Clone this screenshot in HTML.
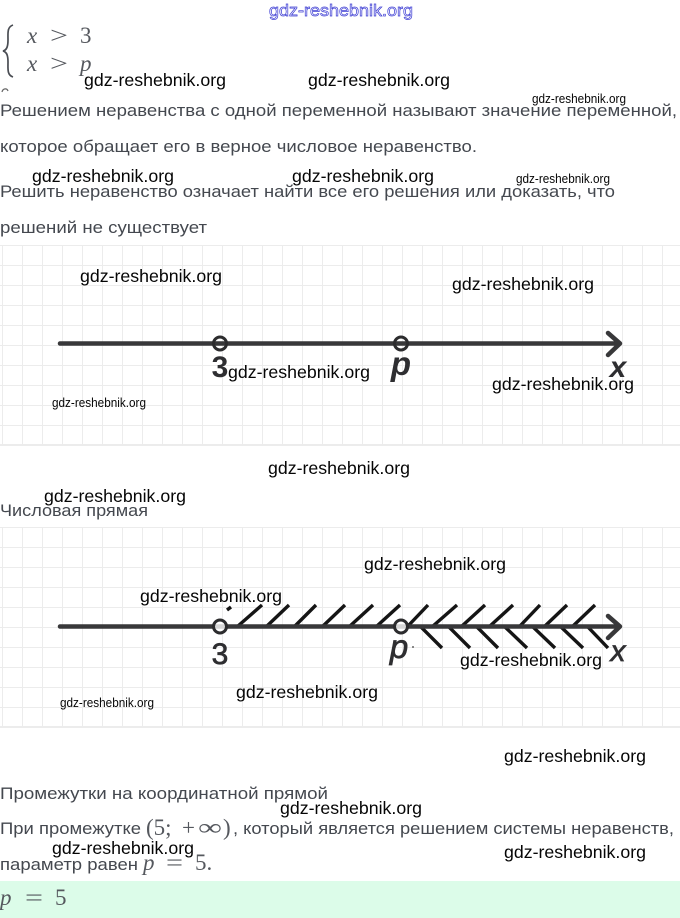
<!DOCTYPE html>
<html lang="ru"><head><meta charset="utf-8"><title>Числовая прямая</title>
<style>
html,body{margin:0;padding:0;background:#fff}
svg{display:block}
.t{font-family:"Liberation Sans",sans-serif;font-size:17px;fill:#44484f}
.m{font-family:"Liberation Serif",serif;font-size:23px;fill:#55585e}
.i{font-style:italic}
.w{font-family:"Liberation Sans",sans-serif;font-size:17.500px;fill:#050505}
.s{font-family:"Liberation Sans",sans-serif;font-size:12.500px;fill:#050505}
.g{stroke:#ececec;stroke-width:2;fill:none}
.a{stroke:#38383a;stroke-width:4.500;fill:none;stroke-linecap:round;stroke-linejoin:round}
.h{stroke:#151515;stroke-width:3.400;fill:none}
.l{font-family:"Liberation Sans",sans-serif;fill:#2e2e31}
</style></head><body>
<svg xmlns="http://www.w3.org/2000/svg" width="680" height="918" viewBox="0 0 680 918">
<defs>
<pattern id="gp" x="2" y="5" width="20" height="20" patternUnits="userSpaceOnUse"><path class="g" d="M0 0V20M0 0H20"/></pattern>
<pattern id="gq" x="2" y="7" width="20" height="20" patternUnits="userSpaceOnUse"><path class="g" d="M0 0V20M0 0H20"/></pattern>
</defs>
<rect width="680" height="918" fill="#fff"/>

<text x="269" y="16" font-family="Liberation Sans, sans-serif" font-size="17" fill="#fff" stroke="#3f3fd4" stroke-width=".7" textLength="144" lengthAdjust="spacingAndGlyphs">gdz-reshebnik.org</text>

<path d="M13 25C7 27 8 33 8 40C8 46 7 50 3 51C7 52 8 56 8 62C8 69 7 75 13 77" fill="none" stroke="#4a4d53" stroke-width="1.700"/>
<text class="m i" x="27" y="43">x</text><text class="m" x="50" y="43" textLength="18" lengthAdjust="spacingAndGlyphs">&gt;</text><text class="m" x="80" y="43">3</text>
<text class="m i" x="27" y="71">x</text><text class="m" x="50" y="71" textLength="18" lengthAdjust="spacingAndGlyphs">&gt;</text><text class="m i" x="80" y="71">p</text>
<path d="M2 92C3 88 7 88 8 91" fill="none" stroke="#666" stroke-width="1.200"/>

<text class="t" x="0" y="116" textLength="677" lengthAdjust="spacingAndGlyphs">Решением неравенства с одной переменной называют значение переменной,</text>
<text class="t" x="0" y="152" textLength="477" lengthAdjust="spacingAndGlyphs">которое обращает его в верное числовое неравенство.</text>
<text class="t" x="0" y="197" textLength="615" lengthAdjust="spacingAndGlyphs">Решить неравенство означает найти все его решения или доказать, что</text>
<text class="t" x="0" y="233" textLength="207" lengthAdjust="spacingAndGlyphs">решений не существует</text>

<rect x="0" y="245" width="680" height="200" fill="url(#gp)"/>
<path class="g" d="M0 445H680"/>
<path class="a" d="M60 343.500H620M608 333L620 343.500L608 355"/>
<circle cx="220" cy="343.500" r="6.500" fill="none" stroke="#2c2c2e" stroke-width="3"/>
<circle cx="401" cy="343.500" r="6.500" fill="none" stroke="#2c2c2e" stroke-width="3"/>
<text class="l" x="220" y="377" font-size="30" font-weight="bold" text-anchor="middle">3</text>
<text class="l" x="401" y="375" font-size="33" font-weight="bold" font-style="italic" text-anchor="middle">p</text>
<text class="l" x="618" y="377" font-size="30" font-weight="bold" font-style="italic" text-anchor="middle">x</text>

<text class="t" x="0" y="516" textLength="148" lengthAdjust="spacingAndGlyphs">Числовая прямая</text>

<rect x="0" y="527" width="680" height="200" fill="url(#gq)"/>
<path class="g" d="M0 727H680"/>
<path class="h" d="M238 626L262 605M267 626L289 605M295 626L316 605M323 626L345 605M350 626L373 605M377 626L400 605M408 626L428 605M433 626L457 605M462 626L485 605M490 626L513 605M520 626L540 605M545 626L567 605M573 626L595 605M227 610L231 607"/>
<path class="h" d="M420 626L442 648M448 626L470 648M476 626L498 648M504 626L527 648M532 626L555 648M560 626L583 648M587 626L608 648"/>
<path class="a" d="M60 626.500H620M608 616L620 626.500L608 638"/>
<circle cx="220" cy="626.500" r="6.500" fill="#fff" fill-opacity=".8" stroke="#2c2c2e" stroke-width="3"/>
<circle cx="401" cy="626.500" r="6.500" fill="#fff" fill-opacity=".8" stroke="#2c2c2e" stroke-width="3"/>
<text class="l" x="220" y="664" font-size="30" text-anchor="middle" stroke="#2e2e31" stroke-width=".7">3</text>
<text class="l" x="399" y="658" font-size="33" font-style="italic" text-anchor="middle" stroke="#2e2e31" stroke-width=".7">p</text>
<text class="l" x="618" y="661" font-size="30" font-style="italic" text-anchor="middle" stroke="#2e2e31" stroke-width=".7">x</text>
<circle cx="413" cy="647" r="1" fill="#666"/>

<text class="t" x="0" y="799" textLength="328" lengthAdjust="spacingAndGlyphs">Промежутки на координатной прямой</text>
<text class="t" x="0" y="834" textLength="141" lengthAdjust="spacingAndGlyphs">При промежутке</text>
<text class="m" x="146" y="835">(5;</text><text class="m" x="182" y="835">+</text><text class="m" x="198" y="835" textLength="24" lengthAdjust="spacingAndGlyphs">∞</text><text class="m" x="223" y="835">)</text>
<text class="t" x="233" y="834" textLength="441" lengthAdjust="spacingAndGlyphs">, который является решением системы неравенств,</text>
<text class="t" x="0" y="870" textLength="138" lengthAdjust="spacingAndGlyphs">параметр равен</text>
<text class="m i" x="143" y="870">p</text><text class="m" x="166" y="870" textLength="17" lengthAdjust="spacingAndGlyphs">=</text><text class="m" x="195" y="870">5.</text>

<rect x="0" y="881" width="680" height="37" fill="#dcfce9"/>
<text class="m i" x="0" y="905">p</text><text class="m" x="25" y="905" textLength="18" lengthAdjust="spacingAndGlyphs">=</text><text class="m" x="55" y="905">5</text>

<g>
<text class="w" x="84" y="86" textLength="142" lengthAdjust="spacingAndGlyphs">gdz-reshebnik.org</text>
<text class="w" x="308" y="86" textLength="142" lengthAdjust="spacingAndGlyphs">gdz-reshebnik.org</text>
<text class="s" x="532" y="103" textLength="94" lengthAdjust="spacingAndGlyphs">gdz-reshebnik.org</text>
<text class="w" x="32" y="182" textLength="142" lengthAdjust="spacingAndGlyphs">gdz-reshebnik.org</text>
<text class="w" x="292" y="182" textLength="142" lengthAdjust="spacingAndGlyphs">gdz-reshebnik.org</text>
<text class="s" x="516" y="183" textLength="94" lengthAdjust="spacingAndGlyphs">gdz-reshebnik.org</text>
<text class="w" x="80" y="282" textLength="142" lengthAdjust="spacingAndGlyphs">gdz-reshebnik.org</text>
<text class="w" x="452" y="290" textLength="142" lengthAdjust="spacingAndGlyphs">gdz-reshebnik.org</text>
<text class="w" x="228" y="378" textLength="142" lengthAdjust="spacingAndGlyphs">gdz-reshebnik.org</text>
<text class="w" x="492" y="390" textLength="142" lengthAdjust="spacingAndGlyphs">gdz-reshebnik.org</text>
<text class="s" x="52" y="407" textLength="94" lengthAdjust="spacingAndGlyphs">gdz-reshebnik.org</text>
<text class="w" x="268" y="474" textLength="142" lengthAdjust="spacingAndGlyphs">gdz-reshebnik.org</text>
<text class="w" x="44" y="502" textLength="142" lengthAdjust="spacingAndGlyphs">gdz-reshebnik.org</text>
<text class="w" x="364" y="570" textLength="142" lengthAdjust="spacingAndGlyphs">gdz-reshebnik.org</text>
<text class="w" x="140" y="602" textLength="142" lengthAdjust="spacingAndGlyphs">gdz-reshebnik.org</text>
<text class="w" x="460" y="666" textLength="142" lengthAdjust="spacingAndGlyphs">gdz-reshebnik.org</text>
<text class="w" x="236" y="698" textLength="142" lengthAdjust="spacingAndGlyphs">gdz-reshebnik.org</text>
<text class="s" x="60" y="707" textLength="94" lengthAdjust="spacingAndGlyphs">gdz-reshebnik.org</text>
<text class="w" x="504" y="762" textLength="142" lengthAdjust="spacingAndGlyphs">gdz-reshebnik.org</text>
<text class="w" x="280" y="814" textLength="142" lengthAdjust="spacingAndGlyphs">gdz-reshebnik.org</text>
<text class="w" x="52" y="854" textLength="142" lengthAdjust="spacingAndGlyphs">gdz-reshebnik.org</text>
<text class="w" x="504" y="858" textLength="142" lengthAdjust="spacingAndGlyphs">gdz-reshebnik.org</text>
</g>
</svg>
</body></html>
